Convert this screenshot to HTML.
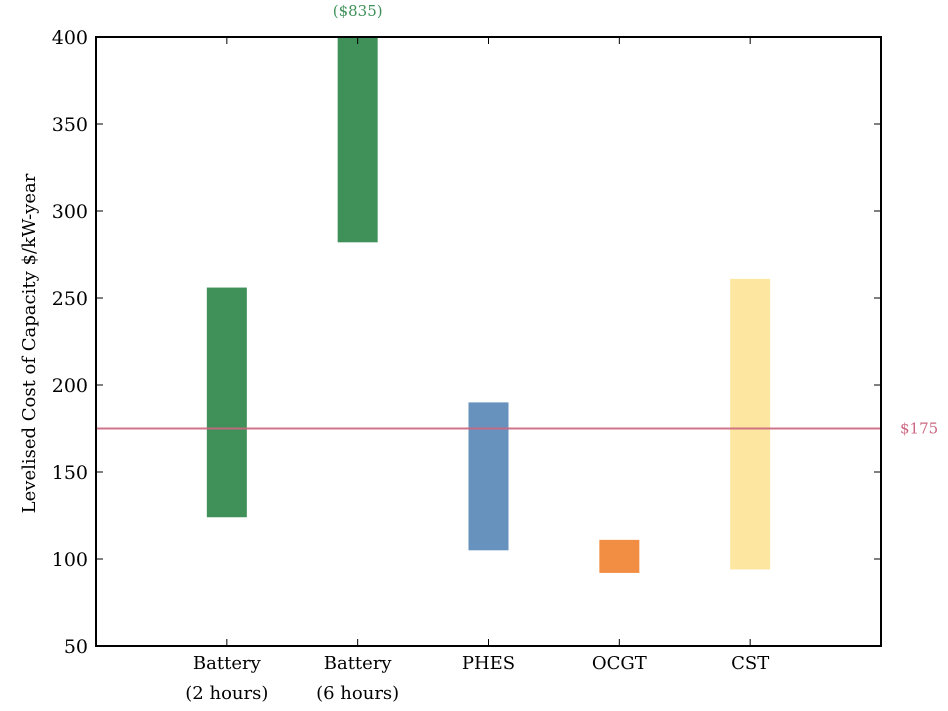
<!DOCTYPE html>
<html><head><meta charset="utf-8"><style>
body{margin:0;background:#fff;width:948px;height:706px;overflow:hidden}
svg text{font-family:"DejaVu Serif","Liberation Serif",serif}
</style></head><body>
<svg id="chart" width="948" height="706">
<g id="bars"></g>
<g id="axes"></g>
</svg>
<script>
const categories=["Battery|(2 hours)","Battery|(6 hours)","PHES","OCGT","CST"];
const lowValues=[124,282,105,92,94];
const highValues=[256,835,190,111,261];
const colors=["#3f9159","#3f9159","#6692bd","#f28e43","#fde6a0"];
const yTicks=[50,100,150,200,250,300,350,400];
const refValue=175;
const refLabel="$175";
const offLabel="($835)";

const L=96,R=881,T=37,B=646;
const xs=i=>L+(i+1)*(R-L)/6;
const ys=v=>B-(v-50)*(B-T)/350;
const NS="http://www.w3.org/2000/svg";
const bars=document.getElementById('bars'),axes=document.getElementById('axes');
function mk(p,tag,a){const e=document.createElementNS(NS,tag);for(const k in a)e.setAttribute(k,a[k]);p.appendChild(e);return e;}
const bw=40;
categories.forEach((c,i)=>{
  const top=ys(Math.min(highValues[i],400)),bot=ys(lowValues[i]);
  const r=mk(bars,'rect',{x:xs(i)-bw/2,y:top,width:bw,height:bot-top,fill:colors[i]});
  
  
  if(highValues[i]>400){
    const t=mk(bars,'text',{x:xs(i),y:T-21,'text-anchor':'middle','font-size':15,fill:'#3f9159'});
    t.textContent=offLabel;
    
    
  }
  c.split('|').forEach((ln,j)=>{
    const t=mk(axes,'text',{x:xs(i),y:B+23+j*30,'text-anchor':'middle','font-size':18,fill:'#000'});
    t.textContent=ln;
    
    
  });
  mk(axes,'line',{x1:xs(i),x2:xs(i),y1:B,y2:B-7,stroke:'#000','stroke-width':1});
  mk(axes,'line',{x1:xs(i),x2:xs(i),y1:T,y2:T+7,stroke:'#000','stroke-width':1});
});
const rl=mk(bars,'line',{x1:L,x2:R,y1:ys(refValue),y2:ys(refValue),stroke:'#cc6680','stroke-width':2,opacity:0.9});


const rt=mk(axes,'text',{x:900,y:ys(refValue)+5,'font-size':15,fill:'#cc6680'});
rt.textContent=refLabel;


yTicks.forEach(v=>{
  const y=ys(v);
  mk(axes,'line',{x1:L,x2:L+7,y1:y,y2:y,stroke:'#000'});
  mk(axes,'line',{x1:R,x2:R-7,y1:y,y2:y,stroke:'#000'});
  const t=mk(axes,'text',{x:L-8,y:y+7,'text-anchor':'end','font-size':19,fill:'#000'});
  t.textContent=v;
  
  
});
const fr=mk(axes,'rect',{x:L,y:T,width:R-L,height:B-T,fill:'none',stroke:'#000','stroke-width':2});


const yt=mk(axes,'text',{x:0,y:0,'text-anchor':'middle','font-size':18,fill:'#000',transform:`translate(35,${(T+B)/2+2}) rotate(-90)`});
yt.textContent="Levelised Cost of Capacity $/kW-year";


</script>
</body></html>
